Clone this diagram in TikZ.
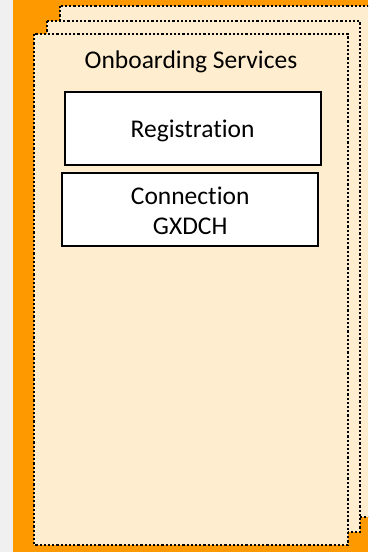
\documentclass[tikz,border=0pt]{standalone}
\usepackage{fontspec}
\setmainfont[Ligatures=NoCommon]{Carlito}
\definecolor{pagegray}{HTML}{F0F0F0}
\definecolor{orangebg}{HTML}{FF9900}
\definecolor{paper}{HTML}{FFEDCF}
\begin{document}
\begin{tikzpicture}[x=1pt,y=-1pt,
  sheet/.style={fill=paper,draw=black,line width=2.2pt,dash pattern=on 2.2pt off 2pt},
  svcbox/.style={draw=black,line width=2pt,fill=white},
  lbl/.style={font=\fontsize{25.5}{30}\selectfont,anchor=base,inner sep=0pt}]
\useasboundingbox (0,0) rectangle (368,552);
\fill[pagegray] (0,0) rectangle (13,552);
\fill[orangebg] (13,0) rectangle (368,552);
\begin{scope}
\clip (0,0) rectangle (368,552);
\draw[sheet] (60,6) rectangle (380,517);
\end{scope}
\draw[sheet] (47,21) rectangle (360,532);
\draw[sheet] (34,34) rectangle (348,545);
\node[lbl] (title) at (191,68) {Onboarding Services};
\node[svcbox,minimum width=256pt,minimum height=73pt,inner sep=0pt] (reg) at (192.6,128.4) {};
\node[lbl] (regtxt) at (192.6,137.3) {Registration};
\node[svcbox,minimum width=256pt,minimum height=73pt,inner sep=0pt] (con) at (190.2,209.8) {};
\node[lbl] (contxt1) at (190.2,204.3) {Connection};
\node[lbl] (contxt2) at (190.2,234) {GXDCH};
\end{tikzpicture}
\end{document}
